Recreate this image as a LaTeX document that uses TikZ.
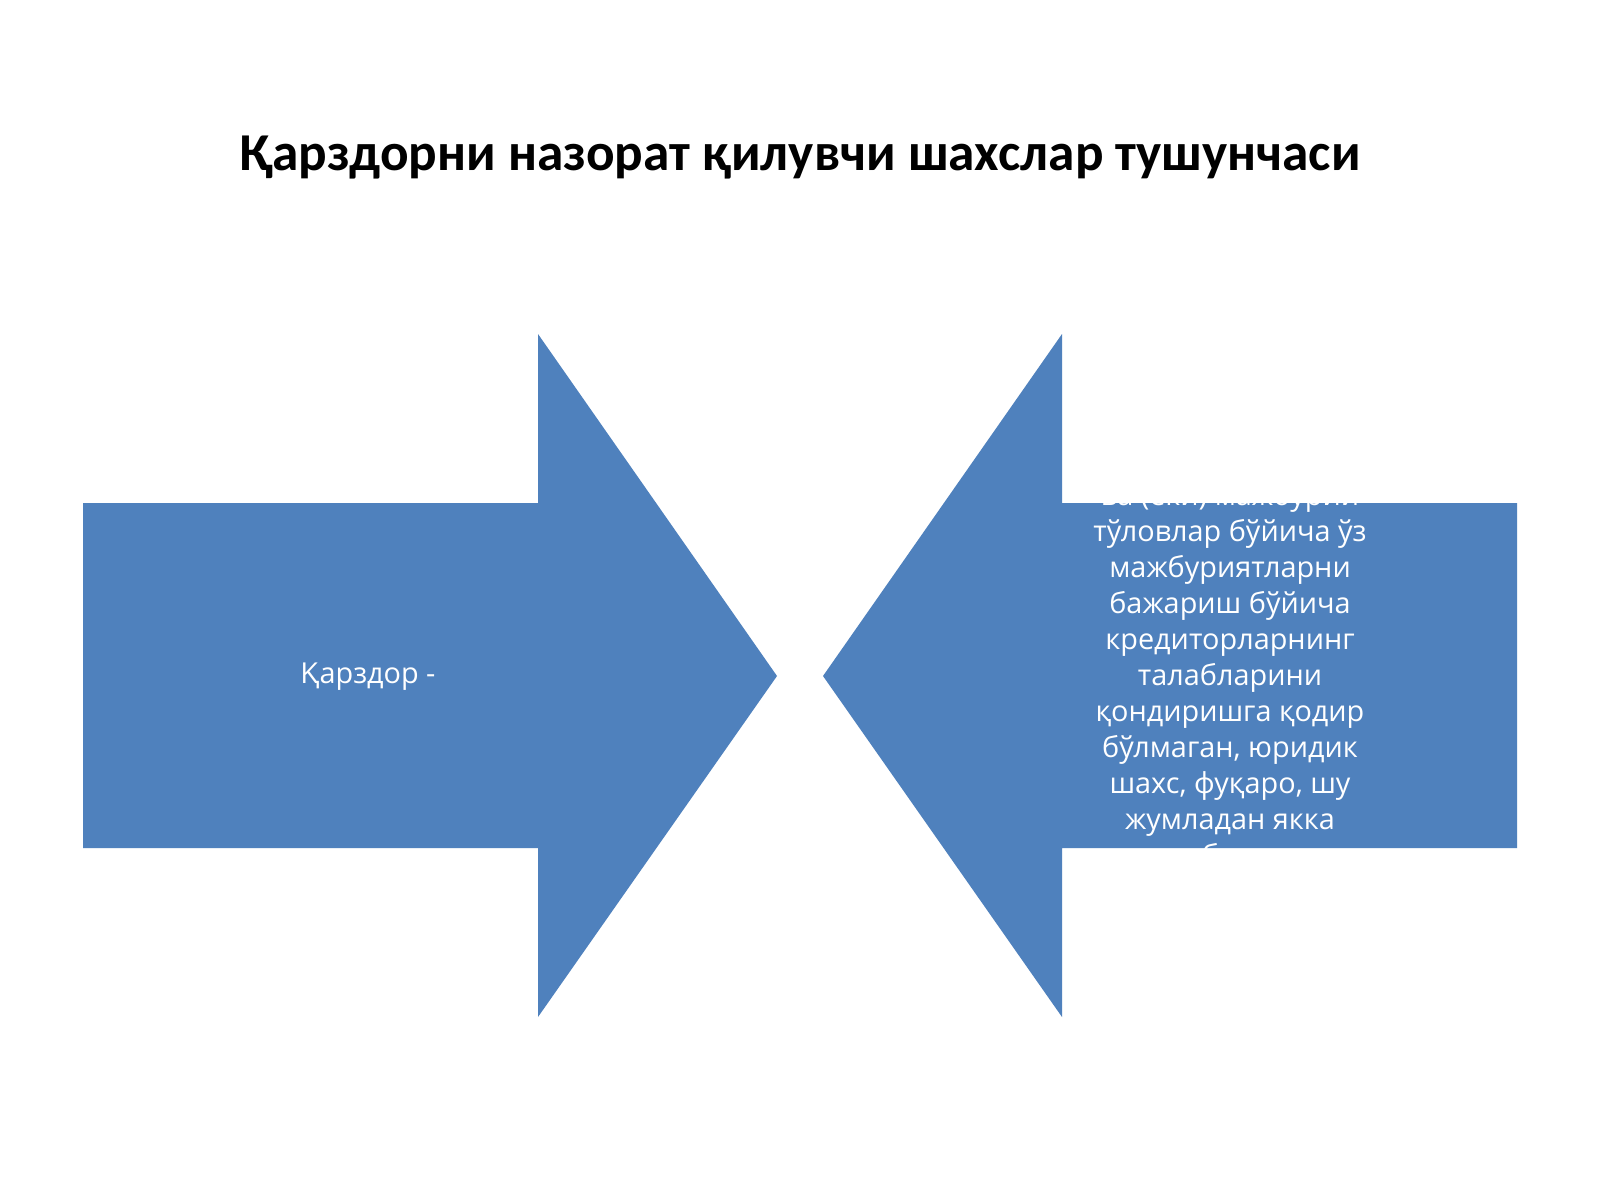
\documentclass[tikz,border=0pt]{standalone}
\usepackage{fontspec}
\setmainfont{Open Sans}
\newfontfamily\titlefont{Carlito}
\definecolor{arrowblue}{HTML}{4F81BD}
\begin{document}
\begin{tikzpicture}[x=0.01cm,y=-0.01cm,
  arrowshape/.style={fill=arrowblue,draw=none},
  bodytext/.style={text=white,font=\fontsize{8.2pt}{10.24pt}\selectfont,align=center,inner sep=0pt},
  titletext/.style={font=\titlefont\bfseries\fontsize{15.15pt}{18pt}\selectfont,inner sep=0pt}]
\fill[white] (0,0) rectangle (1600,1200);
\useasboundingbox (0,0) rectangle (1600,1200);
% left arrow
\path[arrowshape] (83,503) -- (538,503) -- (538,334) -- (777,676) -- (538,1017) -- (538,848) -- (83,848) -- cycle;
% right arrow
\path[arrowshape] (1517,503) -- (1062,503) -- (1062,334) -- (823,676) -- (1062,1017) -- (1062,848) -- (1517,848) -- cycle;
\node[titletext] (title) at (800,158) {Қарздорни назорат қилувчи шахслар тушунчаси};
\node[bodytext] (left) at (368,677) {Қарздор -};
\node[bodytext] (right) at (1230,678) {ва (ёки) мажбурий\\тўловлар бўйича ўз\\мажбуриятларни\\бажариш бўйича\\кредиторларнинг\\талабларини\\қондиришга қодир\\бўлмаган, юридик\\шахс, фуқаро, шу\\жумладан якка\\тадбиркор};
\end{tikzpicture}
\end{document}
